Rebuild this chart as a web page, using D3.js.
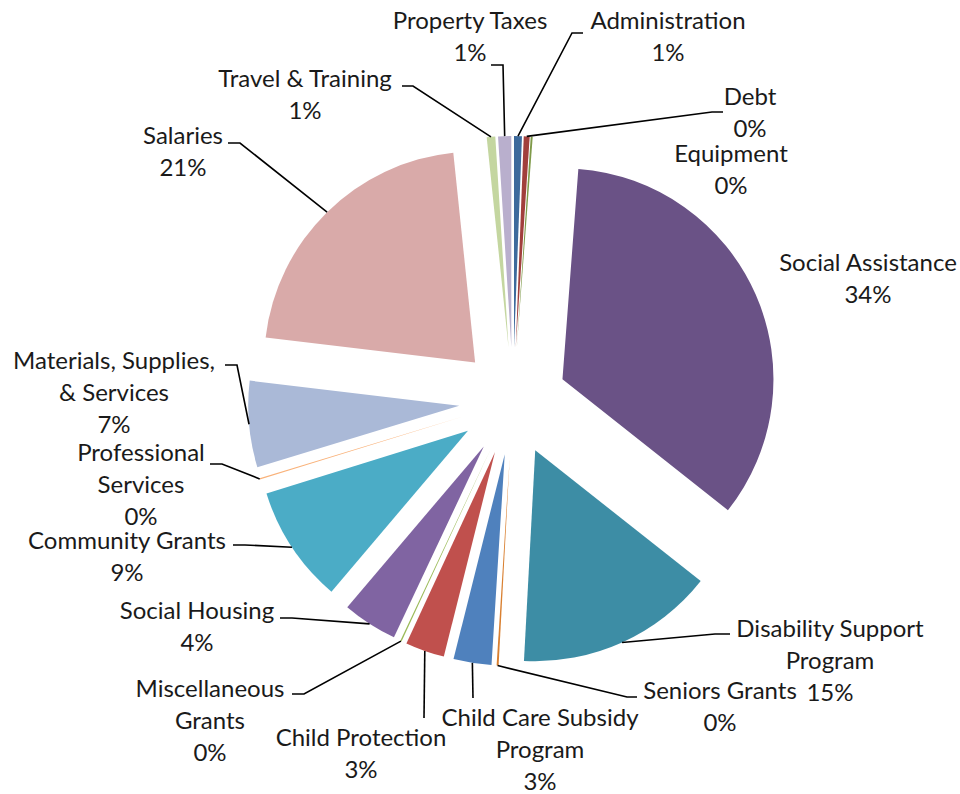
<!DOCTYPE html>
<html>
<script src='https://d3js.org/d3.v7.min.js'></script>
<style>
        html, body {
            margin: 0;
            background-color: #ffffff;
        }
        text {
          font-family: Lato, 'Open Sans', sans-serif;
          font-size: 24px;
          fill: #1a1a1a;
        }
</style>
<body>
<div id="vis"></div>
</body>
<script>
// slices in drawing order, clockwise from 12 o'clock
var categories = ["Administration", "Debt", "Equipment", "Social Assistance",
    "Disability Support Program", "Seniors Grants", "Child Care Subsidy Program",
    "Child Protection", "Miscellaneous Grants", "Social Housing", "Community Grants",
    "Professional Services", "Materials, Supplies, & Services", "Salaries",
    "Travel & Training", "Property Taxes"];

// share of budget, percent
var shares = [0.6, 0.45, 0.15, 34.45, 15.2, 0.15, 2.9, 3.0, 0.1, 4.2, 9.0, 0.1, 6.6, 21.45, 0.65, 1.0];

var colours = ["#3d6a9c", "#a13f3c", "#7f9a49", "#6a5286", "#3d8da5", "#d98031",
    "#4f81bd", "#c0504d", "#9bbb59", "#8064a2", "#4bacc6", "#f9b27a",
    "#aab9d7", "#d9aaa9", "#c4d6a0", "#b9afcd"];

var width = 960,
    height = 794;

var cx = 513,
    cy = 401,
    radius = 211,
    explode = 54;

// label placement: centre x, y of first line, wrapped lines, leader stub (label side)
var labels = [
    {x: 668, y: 20,  lines: ["Administration"], stub: [583, 33, 572, 33]},
    {x: 750, y: 96,  lines: ["Debt"], stub: [723, 112, 712, 112]},
    {x: 731, y: 153, lines: ["Equipment"], stub: null},
    {x: 868, y: 262, lines: ["Social Assistance"], stub: null},
    {x: 830, y: 628, lines: ["Disability Support", "Program"], stub: [730, 634, 715, 634]},
    {x: 720, y: 690, lines: ["Seniors Grants"], stub: [637, 697, 627, 697]},
    {x: 540, y: 717, lines: ["Child Care Subsidy", "Program"], stub: [473, 698, 473, 698]},
    {x: 361, y: 737, lines: ["Child Protection"], stub: [424, 718, 424, 718]},
    {x: 210, y: 688, lines: ["Miscellaneous", "Grants"], stub: [292, 694, 304, 694]},
    {x: 197, y: 610, lines: ["Social Housing"], stub: [280, 618, 292, 618]},
    {x: 127, y: 540, lines: ["Community Grants"], stub: [233, 545, 245, 545]},
    {x: 141, y: 452, lines: ["Professional", "Services"], stub: [210, 464, 222, 464]},
    {x: 114, y: 360, lines: ["Materials, Supplies,", "& Services"], stub: [225, 365, 237, 365]},
    {x: 183, y: 135, lines: ["Salaries"], stub: [228, 143, 240, 143]},
    {x: 305, y: 78,  lines: ["Travel & Training"], stub: [402, 86, 413, 86]},
    {x: 470, y: 20,  lines: ["Property Taxes"], stub: [491, 65, 503, 65]}
];

var lineHeight = 32;

var svg = d3.select('#vis')
    .append('svg')
    .attr('width', width)
    .attr('height', height);

var total = d3.sum(shares);

var pie = d3.pie()
    .sort(null)
    .value(function(d) { return d; });

var arc = d3.arc()
    .innerRadius(0)
    .outerRadius(radius);

var slices = pie(shares);

function midAngle(d) {
    return (d.startAngle + d.endAngle) / 2;
}

var g = svg.append('g')
    .attr('transform', 'translate(' + cx + ',' + cy + ')');

g.selectAll('.slice')
    .data(slices)
    .enter()
    .append('path')
    .attr('class', 'slice')
    .attr('d', arc)
    .attr('fill', function(d, i) { return colours[i]; })
    .attr('transform', function(d) {
        var a = midAngle(d);
        return 'translate(' + (Math.sin(a) * explode) + ',' + (-Math.cos(a) * explode) + ')';
    });

// leader lines: short stub beside the label, then straight to the slice's outer edge
svg.selectAll('.leader')
    .data(slices.filter(function(d, i) { return labels[i].stub; }))
    .enter()
    .append('polyline')
    .attr('class', 'leader')
    .attr('fill', 'none')
    .attr('stroke', '#000')
    .attr('stroke-width', 1.6)
    .attr('points', function(d) {
        var s = labels[d.index].stub;
        var a = midAngle(d);
        var ex = cx + Math.sin(a) * (radius + explode);
        var ey = cy - Math.cos(a) * (radius + explode);
        return [s[0], s[1], s[2], s[3], ex, ey].join(',');
    });

var fmt = function(v) { return Math.round(v / total * 100) + '%'; };

var texts = svg.selectAll('.label')
    .data(slices)
    .enter()
    .append('text')
    .attr('class', 'label')
    .attr('text-anchor', 'middle');

texts.each(function(d, i) {
    var lab = labels[i];
    var lines = lab.lines.concat([fmt(d.value)]);
    var t = d3.select(this);
    lines.forEach(function(l, k) {
        t.append('tspan')
            .attr('x', lab.x)
            .attr('y', lab.y + k * lineHeight)
            .attr('dy', '0.36em')
            .text(l);
    });
});
</script>
</html>
